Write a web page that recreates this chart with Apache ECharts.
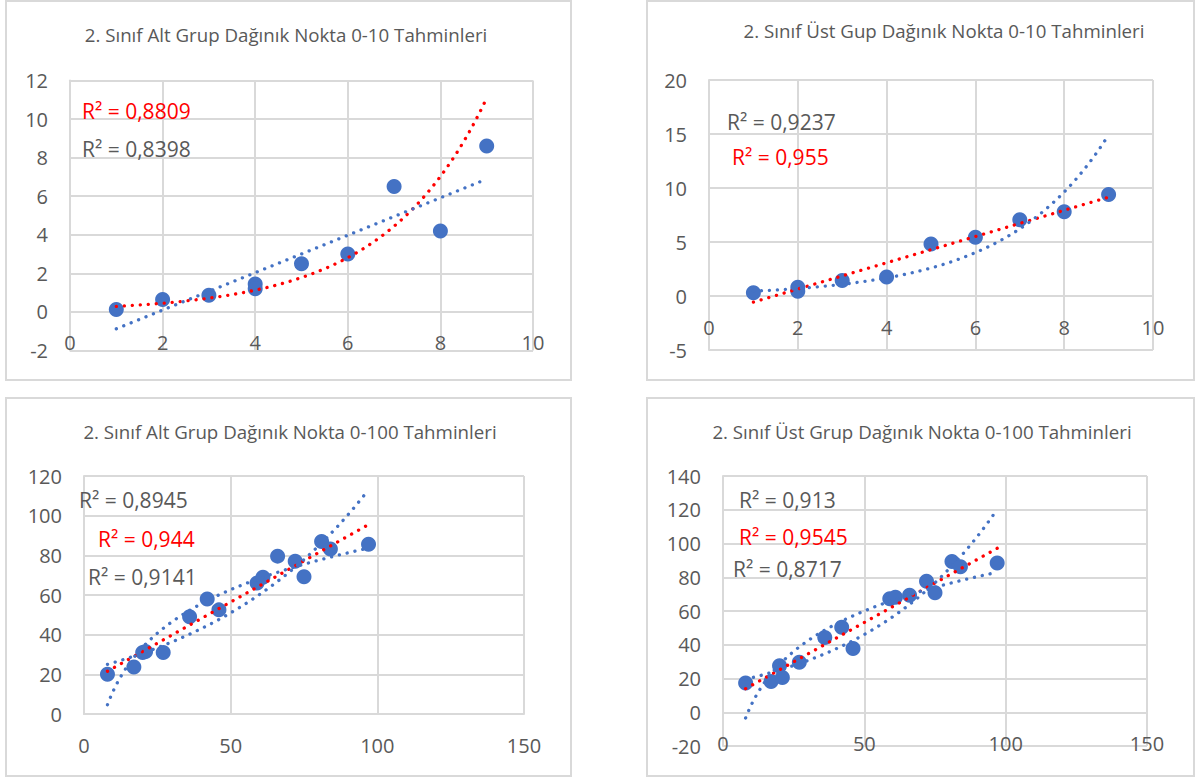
<!DOCTYPE html>
<html>
<head>
<meta charset="utf-8">
<script src="https://cdn.jsdelivr.net/npm/echarts@6/dist/echarts.min.js"></script>
<style>
  html, body { margin: 0; padding: 0; background: #ffffff; }
  #chart { width: 1196px; height: 778px; }
</style>
</head>
<body>
<div id="chart"></div>
<script>
// ---- Chart titles ----
const titles = [
  '2. Sınıf Alt Grup Dağınık Nokta 0-10 Tahminleri',
  '2. Sınıf Üst Gup Dağınık Nokta 0-10 Tahminleri',
  '2. Sınıf Alt Grup Dağınık Nokta 0-100 Tahminleri',
  '2. Sınıf Üst Grup Dağınık Nokta 0-100 Tahminleri'
];

// ---- Estimates on the 0-10 number line (target, estimate) ----
const altGrup10X = [1, 2, 3, 4, 4, 5, 6, 7, 8, 9];
const altGrup10Y = [0.12, 0.64, 0.87, 1.45, 1.2, 2.5, 3.0, 6.5, 4.2, 8.6];
const ustGrup10X = [1, 2, 2, 3, 4, 5, 6, 7, 8, 9];
const ustGrup10Y = [0.3, 0.8, 0.45, 1.43, 1.77, 4.82, 5.43, 7.06, 7.8, 9.4];

// ---- Estimates on the 0-100 number line ----
const targets100 = [8, 17, 20, 21, 27, 36, 42, 46, 59, 61, 66, 72, 75, 81, 84, 97];
const altGrup100Y = [20, 23.7, 31, 31.5, 31, 49, 58, 52.5, 66, 69, 79.6, 77, 69.2, 87, 83.2, 85.6];
const ustGrup100Y = [17.3, 18.2, 27.5, 20.6, 29.6, 44.3, 50.4, 37.8, 67.2, 68.2, 69.3, 77.6, 70.8, 89.4, 86.2, 88.4];

// ---- Axis ranges [min, max, step] ----
const xRanges = [[0, 10, 2], [0, 10, 2], [0, 150, 50], [0, 150, 50]];
const yRanges = [[-2, 12, 2], [-5, 20, 5], [0, 120, 20], [-20, 140, 20]];

// ---- Trendline kinds per panel (first entry drawn red) ----
const trendKinds = [
  ['exp', 'linear'],
  ['linear', 'exp'],
  ['linear', 'exp', 'log'],
  ['linear', 'exp', 'log']
];

// ---- R² captions per panel ----
const r2Texts = [
  ['R² = 0,8809', 'R² = 0,8398'],
  ['R² = 0,9237', 'R² = 0,955'],
  ['R² = 0,8945', 'R² = 0,944', 'R² = 0,9141'],
  ['R² = 0,913', 'R² = 0,9545', 'R² = 0,8717']
];
const r2IsRed = [
  [true, false],
  [false, true],
  [false, true, false],
  [false, true, false]
];

// ---- Layout ----
const BLUE = '#4472C4';
const RED = '#FF0000';
const GREY_TEXT = '#595959';
const GRID_LINE = '#d9d9d9';
const FONT = '"Open Sans", "Noto Sans", sans-serif';

const frames = [
  { x: 6, y: 1, w: 565, h: 379 },
  { x: 647, y: 1, w: 547, h: 379 },
  { x: 6, y: 398, w: 565, h: 378 },
  { x: 647, y: 398, w: 547, h: 378 }
];
const plotBoxes = [
  { left: 70, top: 80.5, width: 463, height: 270 },
  { left: 709, top: 80, width: 444, height: 270 },
  { left: 84, top: 476, width: 440, height: 238 },
  { left: 723, top: 476, width: 424, height: 270 }
];
const titlePos = [[286, 34], [944, 30], [290, 431], [922, 431]];
const r2Pos = [
  [[82, 111], [82, 149]],
  [[727, 122], [732, 157]],
  [[79, 500], [98, 539], [88, 577]],
  [[739, 500], [739, 537], [733, 569]]
];

// ---- Least-squares trendlines ----
function linFit(xs, ys) {
  const n = xs.length;
  const mx = xs.reduce((s, v) => s + v, 0) / n;
  const my = ys.reduce((s, v) => s + v, 0) / n;
  let sxx = 0, sxy = 0;
  for (let i = 0; i < n; i++) {
    sxx += (xs[i] - mx) * (xs[i] - mx);
    sxy += (xs[i] - mx) * (ys[i] - my);
  }
  const b = sxy / sxx;
  const a = my - b * mx;
  return x => a + b * x;
}
function expFit(xs, ys) {
  const f = linFit(xs, ys.map(Math.log));
  return x => Math.exp(f(x));
}
function logFit(xs, ys) {
  const f = linFit(xs.map(Math.log), ys);
  return x => f(Math.log(x));
}
const fitters = { linear: linFit, exp: expFit, log: logFit };

function trendPoints(fn, xs) {
  const lo = Math.min(...xs), hi = Math.max(...xs);
  const steps = 120;
  const pts = [];
  for (let i = 0; i <= steps; i++) {
    const x = lo + (hi - lo) * i / steps;
    pts.push([x, fn(x)]);
  }
  return pts;
}

const panels = [
  { xs: altGrup10X, ys: altGrup10Y },
  { xs: ustGrup10X, ys: ustGrup10Y },
  { xs: targets100, ys: altGrup100Y },
  { xs: targets100, ys: ustGrup100Y }
];

const grid = [], xAxis = [], yAxis = [], series = [], graphic = [];

panels.forEach((p, i) => {
  grid.push(Object.assign({ containLabel: false }, plotBoxes[i]));

  // the horizontal axis (and its labels) sits on the y = 0 line
  const [yMin, yMax] = yRanges[i];
  const zeroLift = (0 - yMin) / (yMax - yMin) * plotBoxes[i].height;

  xAxis.push({
    type: 'value', gridIndex: i, position: 'bottom',
    min: xRanges[i][0], max: xRanges[i][1], interval: xRanges[i][2],
    offset: -zeroLift,
    axisLine: { show: true, onZero: false, lineStyle: { color: GRID_LINE, width: 2 } },
    axisTick: { show: false },
    axisLabel: { color: GREY_TEXT, fontSize: 20, fontFamily: FONT, margin: 21 },
    splitLine: { show: true, lineStyle: { color: GRID_LINE, width: 2 } }
  });
  yAxis.push({
    type: 'value', gridIndex: i,
    min: yRanges[i][0], max: yRanges[i][1], interval: yRanges[i][2],
    axisLine: { show: true, lineStyle: { color: GRID_LINE, width: 2 } },
    axisTick: { show: false },
    axisLabel: { color: GREY_TEXT, fontSize: 20, fontFamily: FONT, margin: 22 },
    splitLine: { show: true, lineStyle: { color: GRID_LINE, width: 2 } }
  });

  series.push({
    type: 'scatter', xAxisIndex: i, yAxisIndex: i,
    data: p.xs.map((x, k) => [x, p.ys[k]]),
    symbol: 'circle', symbolSize: 15,
    itemStyle: { color: BLUE, opacity: 1 },
    z: 2
  });

  trendKinds[i].forEach((kind, k) => {
    const fn = fitters[kind](p.xs, p.ys);
    series.push({
      type: 'line', xAxisIndex: i, yAxisIndex: i,
      data: trendPoints(fn, p.xs),
      symbol: 'none', showSymbol: false, silent: true,
      lineStyle: { color: k === 0 ? RED : BLUE, width: 3.3, type: [0.1, 7.9], cap: 'round' },
      z: 3
    });
  });

  const f = frames[i];
  graphic.push({
    type: 'rect', silent: true, z: -1,
    shape: { x: f.x, y: f.y, width: f.w, height: f.h },
    style: { fill: 'none', stroke: GRID_LINE, lineWidth: 2 }
  });
  graphic.push({
    type: 'text', x: titlePos[i][0], y: titlePos[i][1], silent: true,
    style: {
      text: titles[i], fill: GREY_TEXT, font: '18.7px ' + FONT,
      align: 'center', verticalAlign: 'middle',
      textAlign: 'center', textVerticalAlign: 'middle'
    }
  });
  r2Texts[i].forEach((t, k) => {
    graphic.push({
      type: 'text', x: r2Pos[i][k][0], y: r2Pos[i][k][1], silent: true, z: 10,
      style: {
        text: t, fill: r2IsRed[i][k] ? RED : GREY_TEXT, font: '21px ' + FONT,
        align: 'left', verticalAlign: 'middle',
        textAlign: 'left', textVerticalAlign: 'middle'
      }
    });
  });
});

const chart = echarts.init(document.getElementById('chart'), null, { renderer: 'svg' });
chart.setOption({
  backgroundColor: '#ffffff',
  animation: false,
  grid, xAxis, yAxis, series, graphic
});
</script>
</body>
</html>
